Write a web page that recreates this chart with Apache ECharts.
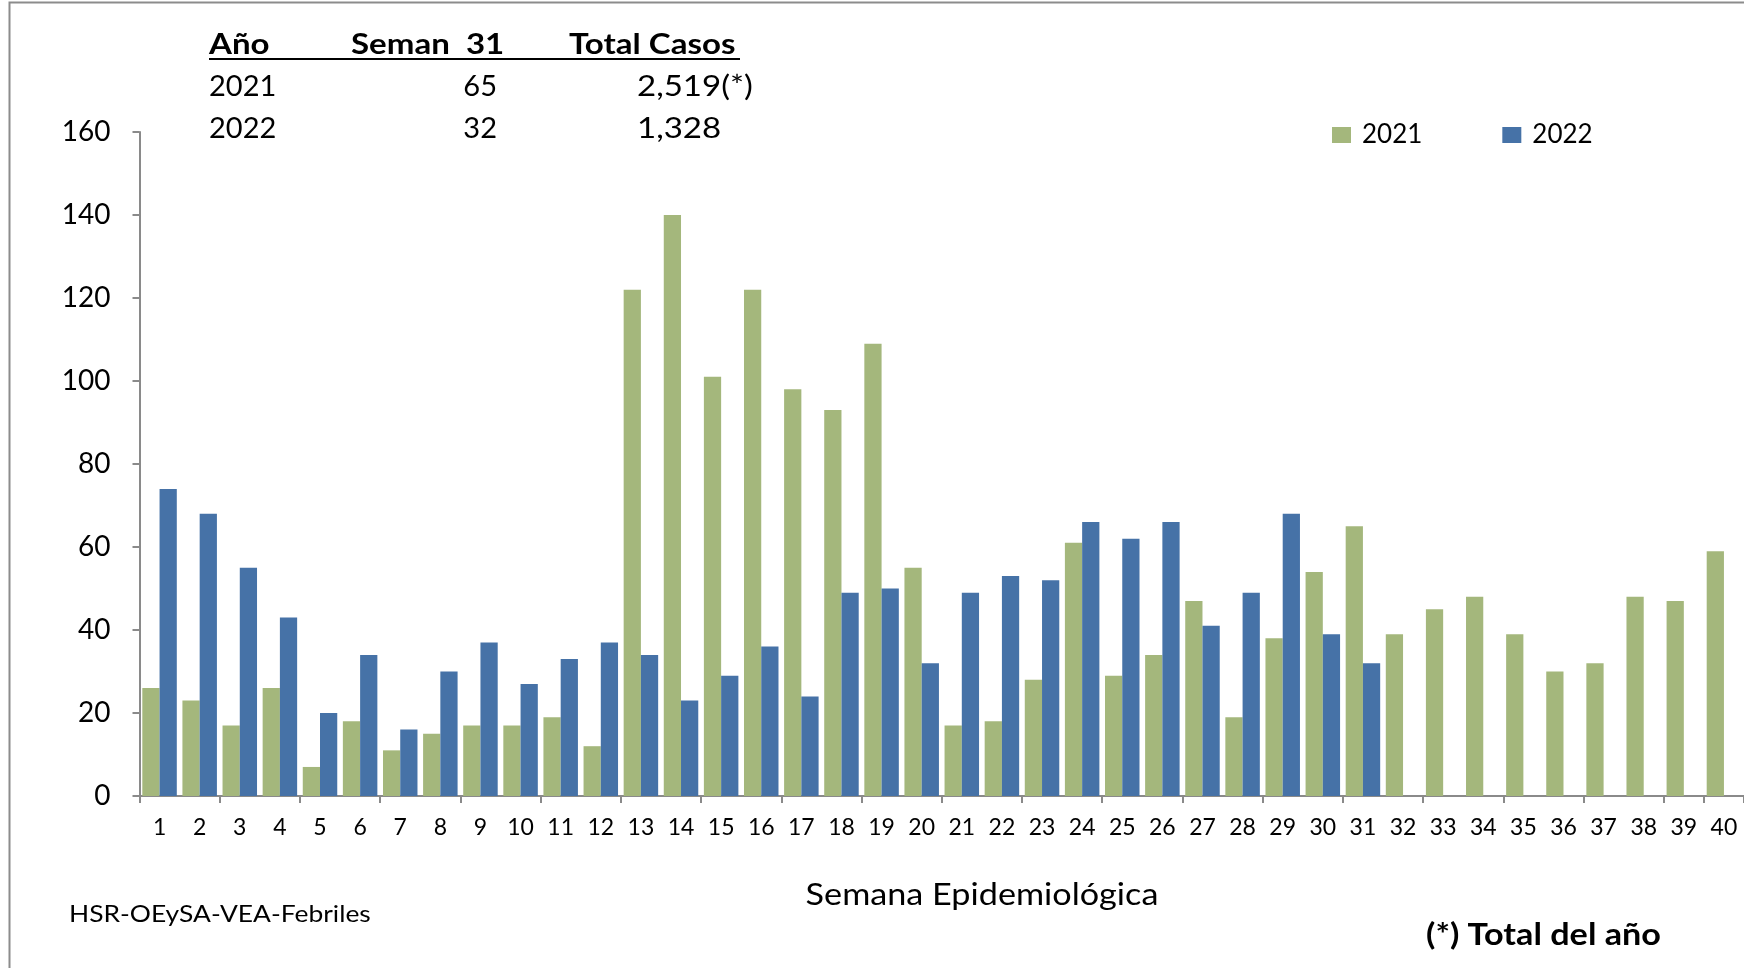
<!DOCTYPE html>
<html>
<head>
<meta charset="utf-8">
<script src="https://cdn.jsdelivr.net/npm/echarts@6/dist/echarts.min.js"></script>
<style>
html,body{margin:0;padding:0;background:#fff;}
#chart{width:1744px;height:968px;}
</style>
</head>
<body>
<div id="chart"></div>
<script>
const weeks = ['1','2','3','4','5','6','7','8','9','10','11','12','13','14','15','16','17','18','19','20','21','22','23','24','25','26','27','28','29','30','31','32','33','34','35','36','37','38','39','40'];
const cases2021 = [26,23,17,26,7,18,11,15,17,17,19,12,122,140,101,122,98,93,109,55,17,18,28,61,29,34,47,19,38,54,65,39,45,48,39,30,32,48,47,59];
const cases2022 = [74,68,55,43,20,34,16,30,37,27,33,37,34,23,29,36,24,49,50,32,49,53,52,66,62,66,41,49,68,39,32,null,null,null,null,null,null,null,null,null];
const seriesNames = ['2021','2022'];
const tableHeader = ['Año','Seman  31','Total Casos'];
const tableRows = [['2021','65','2,519(*)'],['2022','32','1,328']];
const yTicks = {min:0, max:160, interval:20};
const axisTitle = 'Semana Epidemiológica';
const sourceText = 'HSR-OEySA-VEA-Febriles';
const noteText = '(*) Total del año';

const FONT = 'Lato, "Open Sans", sans-serif';
const GREEN = '#A4B77C';
const BLUE = '#4672A7';
const AXIS = '#8a8a8a';

const chart = echarts.init(document.getElementById('chart'));

function txt(x, y, text, font, align, sx) {
  return {type:'text', x:x, y:y, scaleX:(sx==null?1.14:sx), scaleY:1,
    style:{text:text, font:font, fill:'#000', textAlign:align||'left', textVerticalAlign:'middle', whiteSpace:'pre'}};
}

const graphics = [
  {type:'rect', shape:{x:9.5,y:2.5,width:1800,height:1100}, style:{fill:'none',stroke:'#8c8c8c',lineWidth:2}, silent:true},
  {type:'line', shape:{x1:209,y1:59,x2:740,y2:59}, style:{stroke:'#000',lineWidth:2}},
  txt(209, 45, tableHeader[0], 'bold 29px '+FONT),
  txt(351, 45, tableHeader[1], 'bold 29px '+FONT),
  txt(569, 45, tableHeader[2], 'bold 29px '+FONT)
];
const rowY = [86.5, 128.5];
tableRows.forEach((r, i) => {
  graphics.push(txt(209, rowY[i], r[0], '29px '+FONT, 'left', 1));
  graphics.push(txt(497, rowY[i], r[1], '29px '+FONT, 'right', 1));
  graphics.push(txt(637, rowY[i], r[2], '29px '+FONT, 'left', 1.14));
});
graphics.push(txt(982, 895, axisTitle, '30px '+FONT, 'center'));
graphics.push(txt(69, 914, sourceText, '24px '+FONT, 'left', 1.10));
graphics.push(txt(1426, 935, noteText, 'bold 30px '+FONT, 'left'));

chart.setOption({
  animation:false,
  backgroundColor:'#fff',
  textStyle:{fontFamily:FONT},
  grid:{left:139.5, top:132, width:1606.4, height:664},
  legend:{
    data:seriesNames, left:1327, top:117, itemWidth:19, itemHeight:16, itemGap:80, icon:'rect',
    textStyle:{fontSize:26, color:'#000', fontFamily:FONT, padding:[0,0,0,6]}
  },
  xAxis:{
    type:'category', data:weeks, boundaryGap:true,
    axisLine:{lineStyle:{color:AXIS,width:2}},
    axisTick:{show:true, interval:1, length:7, lineStyle:{color:AXIS,width:2}},
    axisLabel:{interval:0, fontSize:23, color:'#000', margin:20, fontFamily:FONT}
  },
  yAxis:{
    type:'value', min:yTicks.min, max:yTicks.max, interval:yTicks.interval,
    axisLine:{show:true, lineStyle:{color:AXIS,width:2}},
    axisTick:{show:true, length:7, lineStyle:{color:AXIS,width:2}},
    splitLine:{show:false},
    axisLabel:{fontSize:28, color:'#000', margin:29, fontFamily:FONT}
  },
  series:[
    {name:seriesNames[0], type:'bar', data:cases2021, barGap:'0%', barCategoryGap:'14%', itemStyle:{color:GREEN}},
    {name:seriesNames[1], type:'bar', data:cases2022, barGap:'0%', barCategoryGap:'14%', itemStyle:{color:BLUE}}
  ],
  graphic:graphics
});
</script>
</body>
</html>
